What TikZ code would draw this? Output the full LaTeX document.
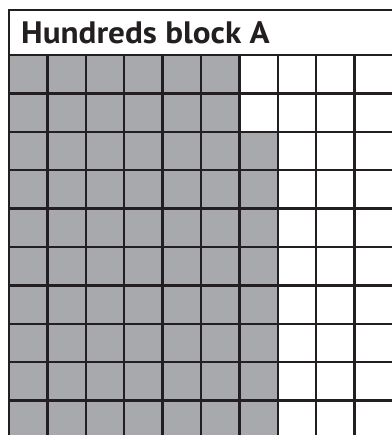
\documentclass[tikz,border=0pt]{standalone}
\usepackage{fontspec}
\setmainfont{PT Sans}
\newfontfamily\titlefont[FakeStretch=1.07]{PT Sans}
\definecolor{cellgray}{HTML}{A7A9AC}
\definecolor{ink}{HTML}{231F20}
\begin{document}
\begin{tikzpicture}[x=1pt,y=-1pt,
  gridline/.style={draw=ink,line width=2.4pt},
  shaded/.style={fill=cellgray},
  titletext/.style={anchor=base west,inner sep=0pt,font=\titlefont\bfseries\fontsize{31}{31}\selectfont,text=ink}]
\useasboundingbox (0,0) rectangle (391,435);
\fill[white] (0,0) rectangle (391,435);
\pgfmathsetmacro{\cs}{38.4}
% shaded cells
\foreach \r in {0,1}{
  \fill[shaded] (9,{55+\r*\cs}) rectangle ({9+6*\cs},{55+(\r+1)*\cs});
}
\fill[shaded] (9,{55+2*\cs}) rectangle ({9+7*\cs},440);
% grid lines
\foreach \i in {0,...,9}{
  \draw[gridline] ({9+\i*\cs},55) -- ({9+\i*\cs},440);
}
\foreach \j in {0,...,9}{
  \draw[gridline] (9,{55+\j*\cs}) -- (395,{55+\j*\cs});
}
% title box
\draw[gridline] (395,10) -- (9,10) -- (9,55);
\node[titletext] (title) at (21,44) {Hundreds block A};
\end{tikzpicture}
\end{document}
